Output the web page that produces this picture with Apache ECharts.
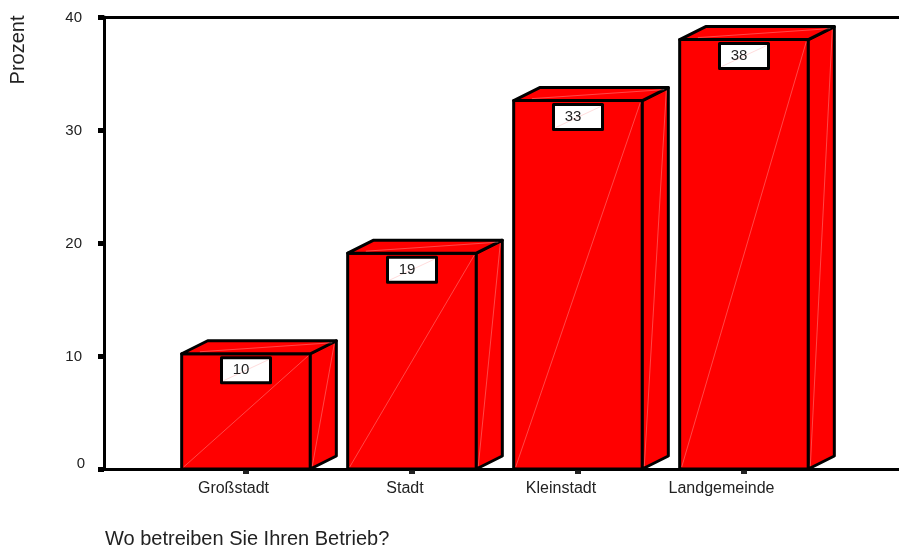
<!DOCTYPE html>
<html><head><meta charset="utf-8">
<style>html,body{margin:0;padding:0;background:#fff}#c{width:899px;height:545px}</style>
<script src="https://cdn.jsdelivr.net/npm/echarts@6/dist/echarts.min.js"></script>
</head><body><div id="c"></div>
<script>
const categories = ['Großstadt', 'Stadt', 'Kleinstadt', 'Landgemeinde'];
const percentValues = [10.2, 19.1, 32.6, 38];
const barLabels = ['10', '19', '33', '38'];

const FONT = '"Liberation Sans", Arial, sans-serif';
const TEXT = '#222';
const DX = 26, DY = -13, LW = 3;
const FAINT = 'rgba(255,170,170,0.7)';
const labelRich = {
  c0: {padding: [0, 25, 0, 0]},
  c1: {padding: [0, 14, 0, 0]},
  c2: {padding: [0, 34, 0, 0]},
  c3: {padding: [0, 45, 0, 0]}
};
const yRich = {
  zero: {padding: [0, 0, 10, 0]},
  tick: {padding: [2, 3, 0, 0]}
};

function renderBox(params, api) {
  const i = api.value(0);
  const v = api.value(1);
  const base = api.coord([i, 0]);
  const top = api.coord([i, v]);
  const w = api.size([1, 0])[0] * 0.775;
  const l = base[0] - w / 2, r = base[0] + w / 2, t = top[1], b = base[1];
  const poly = (pts) => ({
    type: 'polygon', shape: {points: pts},
    style: {fill: '#ff0000', stroke: '#000', lineWidth: LW, lineJoin: 'round'}
  });
  const faint = (x1, y1, x2, y2) => ({
    type: 'line', shape: {x1, y1, x2, y2},
    style: {stroke: FAINT, lineWidth: 0.6}
  });
  const bw = 49, bh = 25, bx = l + (w - bw) / 2, by = t + 4;
  return {
    type: 'group',
    children: [
      poly([[l, b], [r, b], [r, t], [l, t]]),
      poly([[r, b], [r + DX, b + DY], [r + DX, t + DY], [r, t]]),
      poly([[l, t], [r, t], [r + DX, t + DY], [l + DX, t + DY]]),
      faint(l + 2, b - 2, r - 2, t + 2),
      faint(r + 2, b - 3, r + DX - 2, t + DY + 3),
      faint(l + DX * 0.7, t - 2, r + DX - 4, t + DY + 2),
      {type: 'rect', shape: {x: bx, y: by, width: bw, height: bh},
       style: {fill: '#fff', stroke: '#000', lineWidth: LW, lineJoin: 'round'}},
      faint(bx + 2, by + bh - 2, bx + bw - 2, by + 2),
      {type: 'text', x: bx + bw / 2 - 5, y: by + bh / 2,
       style: {text: barLabels[i], fill: TEXT, font: '15px ' + FONT, align: 'center', verticalAlign: 'middle'}}
    ]
  };
}

const chart = echarts.init(document.getElementById('c'), null, {renderer: 'canvas'});
chart.setOption({
  animation: false,
  backgroundColor: '#fff',
  textStyle: {fontFamily: FONT},
  title: {
    text: 'Wo betreiben Sie Ihren Betrieb?', left: 100, top: 524,
    textStyle: {fontSize: 20, fontWeight: 'normal', color: TEXT, fontFamily: FONT}
  },
  graphic: [{
    type: 'text', x: 18, y: 50, rotation: Math.PI / 2, originX: 0, originY: 0,
    style: {text: 'Prozent', font: '20px ' + FONT, fill: TEXT, align: 'center', verticalAlign: 'middle'}
  }],
  grid: [
    {left: 104, right: 0, top: 17, bottom: 76},
    {left: 163, width: 664, top: 17, bottom: 76}
  ],
  xAxis: [
    {gridIndex: 0, type: 'value', min: 0, max: 1, position: 'bottom',
     axisLine: {show: true, lineStyle: {color: '#000', width: LW}},
     axisTick: {show: false}, axisLabel: {show: false}, splitLine: {show: false}},
    {gridIndex: 0, type: 'value', min: 0, max: 1, position: 'top',
     axisLine: {show: true, lineStyle: {color: '#000', width: LW}},
     axisTick: {show: false}, axisLabel: {show: false}, splitLine: {show: false}},
    {gridIndex: 1, type: 'category', data: categories, position: 'bottom',
     axisLine: {show: false},
     axisTick: {show: true, alignWithLabel: true, length: 5, lineStyle: {color: '#222', width: 6}},
     axisLabel: {
       margin: 12, fontSize: 16, color: TEXT, fontFamily: FONT, interval: 0,
       formatter: (val, i) => '{c' + i + '|' + val + '}',
       rich: labelRich
     }}
  ],
  yAxis: [
    {gridIndex: 0, type: 'value', min: 0, max: 40, interval: 10,
     axisLine: {show: true, lineStyle: {color: '#000', width: LW}},
     axisTick: {show: true, length: 6, lineStyle: {color: '#000', width: 5}},
     axisLabel: {margin: 19, fontSize: 15, color: TEXT, fontFamily: FONT,
                 formatter: (val) => (val === 0 ? '{zero|' : '{tick|') + val + '}',
                 rich: yRich},
     splitLine: {show: false}},
    {gridIndex: 1, type: 'value', min: 0, max: 40, interval: 10, show: false}
  ],
  series: [{
    type: 'custom', xAxisIndex: 2, yAxisIndex: 1, clip: false, z: 5,
    renderItem: renderBox,
    encode: {x: 0, y: 1},
    data: percentValues.map((v, i) => [i, v])
  }]
});
</script></body></html>
